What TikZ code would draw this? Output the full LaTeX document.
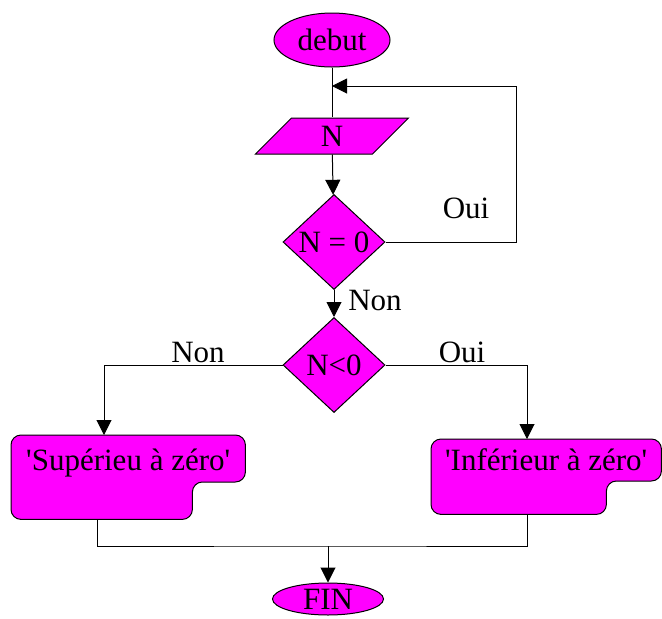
\documentclass[tikz,border=0pt]{standalone}
\usepackage{fontspec}
\setmainfont{Liberation Serif}
\usetikzlibrary{arrows.meta,positioning,calc,shapes.geometric,backgrounds}
\definecolor{FlowMagenta}{RGB}{255,0,255}
\tikzset{
  flow/term/.style={
    ellipse,
    draw=black,
    line width=1pt,
    fill=FlowMagenta,
    inner sep=0pt
  },
  flow/io/.style={
    trapezium,
    trapezium left angle=45,
    trapezium right angle=135,
    trapezium stretches body,
    draw=black,
    line width=1pt,
    fill=FlowMagenta,
    inner xsep=0pt,
    inner ysep=8pt,
    text height=20pt,
    text depth=0pt,
    minimum width=153pt
  },
  flow/test/.style={
    diamond,
    draw=black,
    line width=1pt,
    fill=FlowMagenta,
    inner sep=0pt,
    minimum width=102pt,
    minimum height=95pt
  },
  flow/out/.style={anchor=north west, inner sep=0pt},
  flow/outline/.style={draw=black, line width=1pt, fill=FlowMagenta, rounded corners=10pt},
  flow/line/.style={draw=black, line width=1pt},
  flow/arrow/.style={flow/line, -{Triangle[length=15pt,width=15pt]}},
  flow/label/.style={inner sep=0pt}
}

\begin{document}
\begin{tikzpicture}[x=1pt,y=-1pt,font=\fontsize{31}{36}\selectfont]
  \useasboundingbox (0,0) rectangle (662,619);
  \node[flow/term,minimum width=116pt,minimum height=54pt] (debut) at (332,40) {debut};
  \node[flow/io] (in) at (332,136) {N};
  \node[flow/test] (eq) at (334,242) {N = 0};
  \node[flow/test] (lt) at (334,365) {N<0};
  \node[flow/out,minimum width=234pt,text height=35pt,text depth=49pt] (sup) at (11,435)
    {\textquotesingle Supérieu à zéro\textquotesingle};
  \node[flow/out,minimum width=230pt,text height=31pt,text depth=44pt] (inf) at (431,439)
    {\textquotesingle Inférieur à zéro\textquotesingle};
  \node[flow/term,minimum width=111pt,minimum height=32pt] (fin) at (328,599) {FIN};
  \begin{scope}[on background layer]
    \draw[flow/outline] (sup.north west) -- (sup.north east) -- ($(sup.north east)+(0,47)$)
      -| ($(sup.south east)+(-53,0)$) -- (sup.south west) -- cycle;
    \draw[flow/outline] (inf.north west) -- (inf.north east) -- ($(inf.north east)+(0,42)$)
      -| ($(inf.south east)+(-55,0)$) -- (inf.south west) -- cycle;
  \end{scope}
  \coordinate (back) at (516,86);
  \coordinate (join) at (332,86);
  \coordinate (merge) at (328,546);
  \draw[flow/line] (debut) -- (in);
  \draw[flow/arrow] (in) -- (eq);
  \draw[flow/arrow] (eq.east) -| (back) -- (join);
  \draw[flow/arrow] (eq) -- (lt);
  \draw[flow/arrow] (lt.west) -| ($(sup.north west)+(93,0)$);
  \draw[flow/arrow] (lt.east) -| ($(inf.north west)+(96,0)$);
  \draw[flow/line] ($(sup.south west)+(86,0)$) |- (merge) -| ($(inf.south west)+(96,0)$);
  \draw[flow/arrow] (merge) -- (fin);
  \node[flow/label] (oui1) at (466,208) {Oui};
  \node[flow/label] (non1) at (375,300) {Non};
  \node[flow/label] (non2) at (198,352) {Non};
  \node[flow/label] (oui2) at (462,352) {Oui};
\end{tikzpicture}
\end{document}
